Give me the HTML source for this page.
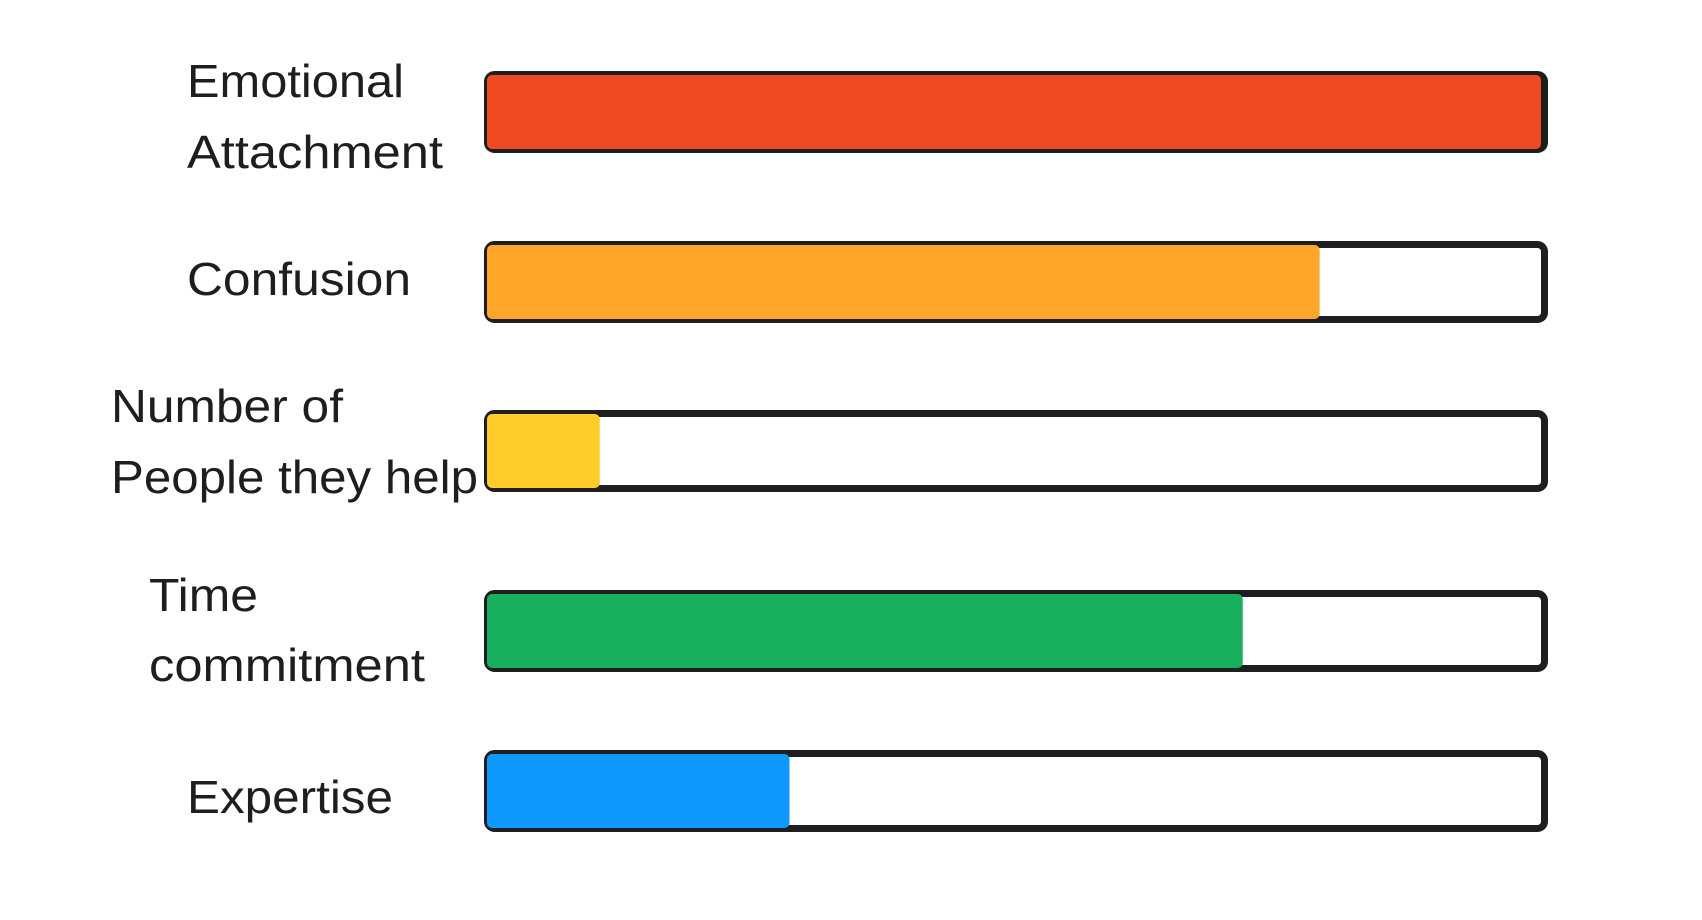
<!DOCTYPE html>
<html><head><meta charset="utf-8"><style>
html,body{margin:0;padding:0;background:#fff;}
svg{display:block;}
text{font-family:"Liberation Sans",sans-serif;font-size:46px;fill:#1e1e1e;}
</style></head><body>
<svg id="chart" width="1702" height="920" viewBox="0 0 1702 920" xmlns="http://www.w3.org/2000/svg"></svg>
<script>
const categories = ["Emotional Attachment","Confusion","Number of People they help","Time commitment","Expertise"];
const values = [1.0, 0.79, 0.107, 0.717, 0.287];
const colors = ["#f04a23","#ffa62b","#ffcd2a","#17ae5e","#0f99ff"];
const labelLines = [["Emotional","Attachment"],["Confusion"],["Number of","People they help"],["Time","commitment"],["Expertise"]];

const svg = document.getElementById('chart');
const NS = 'http://www.w3.org/2000/svg';
const barTops = [71, 241, 410, 590, 750];
const barH = 82;
const x0 = 484, x1 = 1548;
const innerL = 487, innerR = 1541;
function xScale(v){ return innerL + v*(innerR-innerL); }
const labelX = [187,187,111,149,187];
const labelY = [[97,168],[295],[422,493],[611,681],[813]];
const labelW = [[217,256],[224],[232,367],[109,276],[206]];

categories.forEach((c,i)=>{
  const g = document.createElementNS(NS,'g');
  
  
  const outline = document.createElementNS(NS,'rect');
  outline.setAttribute('x', x0+3.5); outline.setAttribute('y', barTops[i]+3.5);
  outline.setAttribute('width', x1-x0-7); outline.setAttribute('height', barH-7);
  outline.setAttribute('rx', 7); outline.setAttribute('fill', '#fff');
  outline.setAttribute('stroke', '#1e1e1e'); outline.setAttribute('stroke-width', 7);
  
  
  g.appendChild(outline);
  const fill = document.createElementNS(NS,'rect');
  const w = xScale(values[i]) - innerL;
  fill.setAttribute('x', innerL); fill.setAttribute('y', barTops[i]+4);
  fill.setAttribute('width', Math.max(0,w)); fill.setAttribute('height', barH-8);
  fill.setAttribute('rx', 5); fill.setAttribute('fill', colors[i]);
  
  
  g.appendChild(fill);
  labelLines[i].forEach((ln,j)=>{
    const t = document.createElementNS(NS,'text');
    t.setAttribute('x', labelX[i]); t.setAttribute('y', labelY[i][j]);
    t.setAttribute('textLength', labelW[i][j]);
    t.setAttribute('lengthAdjust', 'spacingAndGlyphs');
    t.textContent = ln;
    
    
    g.appendChild(t);
  });
  svg.appendChild(g);
});
</script>
</body></html>
